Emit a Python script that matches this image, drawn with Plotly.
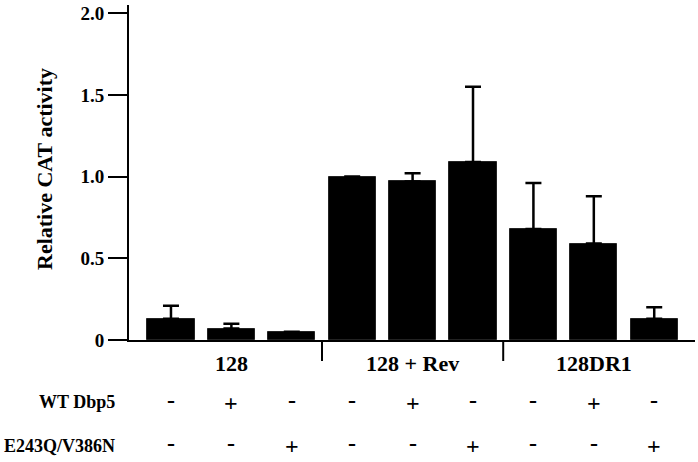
import plotly.graph_objects as go

# Data
positions = [0, 1, 2, 3, 4, 5, 6, 7, 8]
values = [0.13, 0.07, 0.05, 1.00, 0.97, 1.09, 0.68, 0.59, 0.13]
err_top = [0.21, 0.10, None, None, 1.02, 1.55, 0.96, 0.88, 0.20]
groups = ["128", "128 + Rev", "128DR1"]
group_centers = [1, 4, 7]
wt_dbp5 = ["-", "+", "-", "-", "+", "-", "-", "+", "-"]
mutant = ["-", "-", "+", "-", "-", "+", "-", "-", "+"]
row_labels = ["WT Dbp5", "E243Q/V386N"]
y_tickvals = [0, 0.5, 1.0, 1.5, 2.0]
y_ticktext = ["0", "0.5", "1.0", "1.5", "2.0"]
separators = [2.5, 5.5]

FONT = "Liberation Serif, Times New Roman, serif"

err_plus = [(e - v) if e is not None else float("nan") for e, v in zip(err_top, values)]
err_minus = [0 for _ in values]

fig = go.Figure()
fig.add_trace(go.Bar(
    x=positions, y=values, width=0.78,
    marker=dict(color="black", line=dict(color="#222", width=1)),
    error_y=dict(type="data", array=err_plus, arrayminus=err_minus, symmetric=False,
                 color="black", thickness=2.5, width=8),
    showlegend=False, hoverinfo="skip",
))

W, H = 698, 462
L, R, T, B = 129, 3, 5, 122
plot_h = H - T - B
plot_w = W - L - R

def py(pix):
    return (H - B - pix) / plot_h

def px(pix):
    return (pix - L) / plot_w

shapes = []
for s in separators:
    shapes.append(dict(type="line", xref="x", yref="paper", x0=s, x1=s,
                       y0=0, y1=py(361), line=dict(color="black", width=2)))

def bfont(size):
    return dict(family=FONT, size=size, color="black", weight="bold")

annotations = []
for g, c in zip(groups, group_centers):
    annotations.append(dict(x=c, y=py(363), xref="x", yref="paper", text=g,
                            showarrow=False, font=bfont(22), xanchor="center", yanchor="middle"))
for p, s in zip(positions, wt_dbp5):
    annotations.append(dict(x=p, y=py(403 if s == "+" else 400), xref="x", yref="paper", text=s,
                            showarrow=False, font=bfont(24), xanchor="center", yanchor="middle"))
for p, s in zip(positions, mutant):
    annotations.append(dict(x=p, y=py(446 if s == "+" else 443), xref="x", yref="paper", text=s,
                            showarrow=False, font=bfont(24), xanchor="center", yanchor="middle"))
annotations.append(dict(x=px(117), y=py(402), xref="paper", yref="paper", text=row_labels[0],
                        showarrow=False, font=bfont(18), xanchor="right", yanchor="middle"))
annotations.append(dict(x=px(117), y=py(446), xref="paper", yref="paper", text=row_labels[1],
                        showarrow=False, font=bfont(18), xanchor="right", yanchor="middle"))
annotations.append(dict(x=px(45), y=py(169), xref="paper", yref="paper",
                        text="Relative CAT activity", textangle=-90,
                        showarrow=False, font=bfont(22),
                        xanchor="center", yanchor="middle"))

fig.update_layout(
    width=W, height=H,
    margin=dict(l=L, r=R, t=T, b=B, pad=0),
    paper_bgcolor="white", plot_bgcolor="white",
    bargap=0,
    xaxis=dict(range=[-0.695, 8.675], showline=True, linecolor="black", linewidth=2,
               showticklabels=False, ticks="", showgrid=False, zeroline=False, fixedrange=True),
    yaxis=dict(range=[0, 2.05], showline=True, linecolor="black", linewidth=2,
               tickvals=y_tickvals, ticktext=y_ticktext, ticks="outside", ticklen=19,
               tickwidth=2, tickcolor="black", showgrid=False, zeroline=False,
               tickfont=bfont(19), fixedrange=True),
    shapes=shapes,
    annotations=annotations,
)

fig.write_html("out.html", config={"displayModeBar": False},
               post_script="document.body.style.margin='0px';")
